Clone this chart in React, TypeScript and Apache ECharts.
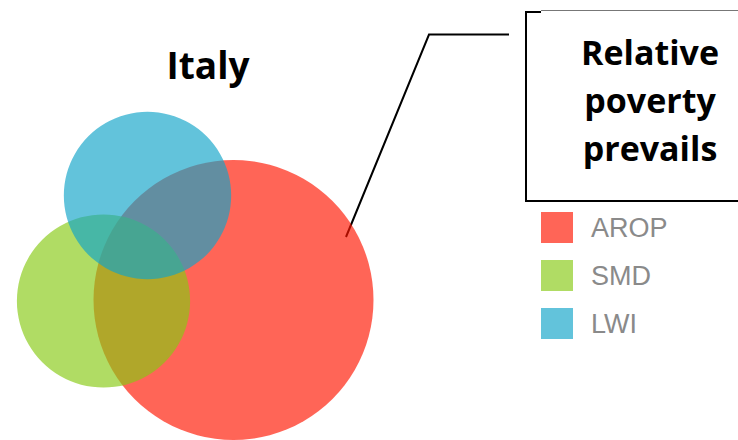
import React, { useEffect, useRef } from "react";
import * as echarts from "echarts";

// Venn sets: name, size (share, %), circle centre in chart units
const setNames = ["AROP", "SMD", "LWI"];
const setSizes = [19.6, 7.5, 7.0];
const centerX = [23.35, 10.35, 14.75];
const centerY = [14.0, 13.9, 24.45];
const setColors = ["#ff1600", "#87ca14", "#11a4c9"];
const titleText = "Italy";
const calloutLines = ["Relative", "poverty", "prevails"];

export default function App() {
  const ref = useRef<HTMLDivElement>(null);
  useEffect(() => {
    document.body.style.margin = "0";
    const chart = echarts.init(ref.current!, null, { renderer: "svg" });
    const series = setNames.map((name, i) => ({
      type: "custom",
      name,
      coordinateSystem: "cartesian2d",
      itemStyle: { color: setColors[i], opacity: 0.66 },
      data: [[centerX[i], centerY[i], Math.sqrt(setSizes[i] * 10)]],
      renderItem: (params: any, api: any) => {
        const c = api.coord([api.value(0), api.value(1)]);
        const r = api.size([api.value(2), 0])[0];
        return {
          type: "circle",
          shape: { cx: c[0], cy: c[1], r },
          style: { fill: setColors[i], opacity: 0.66 },
        };
      },
    }));
    chart.setOption({
      animation: false,
      grid: { left: 0, top: 0, width: 738, height: 440 },
      xAxis: { type: "value", min: 0, max: 73.8, show: false },
      yAxis: { type: "value", min: 0, max: 44, show: false },
      legend: {
        orient: "vertical",
        left: 541,
        top: 212,
        padding: 0,
        itemWidth: 32,
        itemHeight: 31,
        itemGap: 17,
        icon: "rect",
        data: setNames,
        textStyle: {
          fontFamily: "Liberation Sans, Arial, sans-serif",
          fontSize: 27,
          color: "#8a8a8a",
          padding: [0, 0, 0, 13],
        },
      },
      graphic: [
        {
          type: "text",
          style: {
            text: titleText,
            x: 208,
            y: 64,
            align: "center",
            verticalAlign: "middle",
            fontFamily: "Open Sans",
            fontWeight: "bold",
            fontSize: 37,
            fill: "#000",
          },
        },
        {
          type: "polyline",
          shape: { points: [[346, 237], [429, 34.5], [509, 34.5]] },
          style: { stroke: "#000", lineWidth: 2, fill: "none" },
        },
        {
          type: "polyline",
          shape: { points: [[541, 12], [526, 12], [526, 201], [740, 201]] },
          style: { stroke: "#000", lineWidth: 2, fill: "none" },
        },
        {
          type: "line",
          shape: { x1: 541, y1: 10.5, x2: 740, y2: 10.5 },
          style: { stroke: "#777", lineWidth: 1 },
        },
        ...calloutLines.map((t, i) => ({
          type: "text",
          style: {
            text: t,
            x: 650,
            y: 52 + i * 48,
            align: "center",
            verticalAlign: "middle",
            fontFamily: "Open Sans",
            fontWeight: "bold",
            fontSize: 34,
            fill: "#000",
          },
        })),
      ],
      series,
    });
    return () => chart.dispose();
  }, []);
  return <div ref={ref} style={{ width: 738, height: 440 }} />;
}
